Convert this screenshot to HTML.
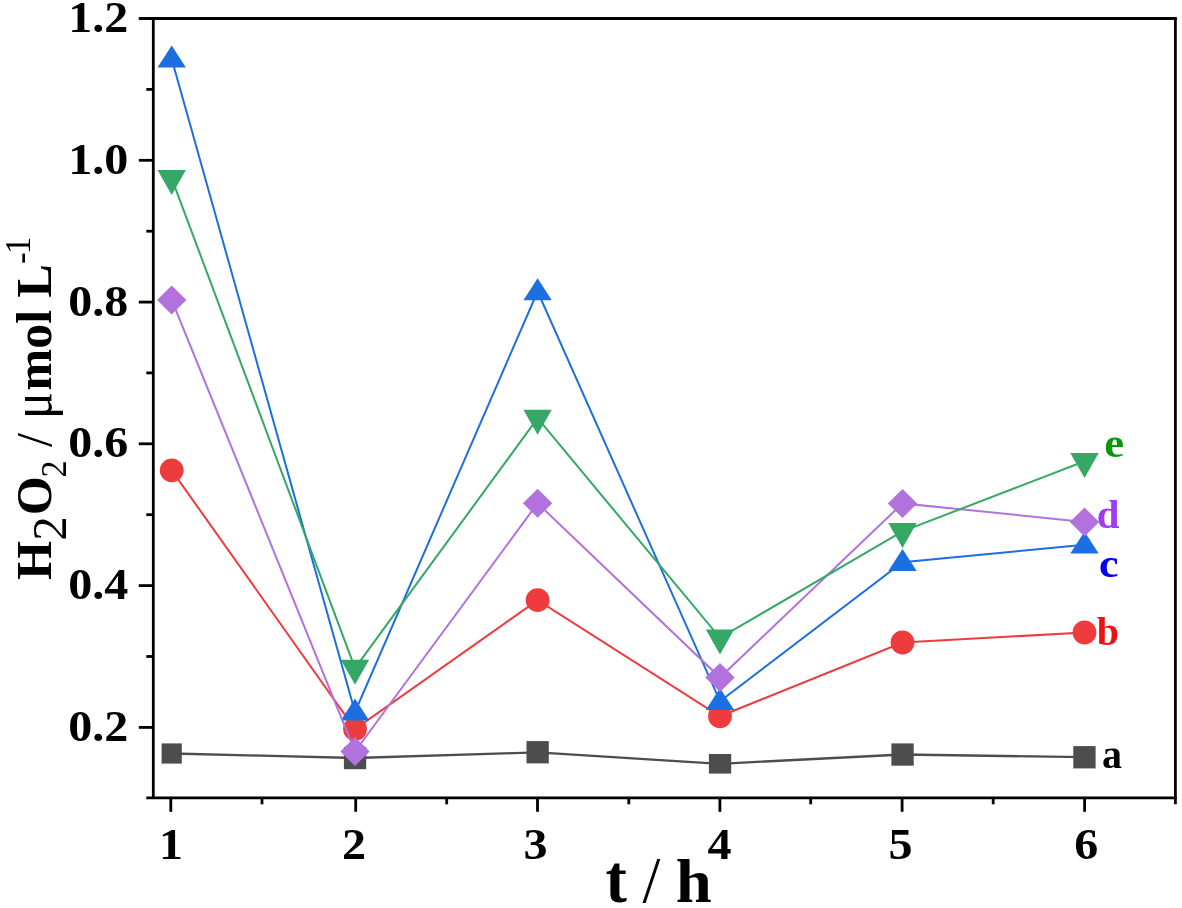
<!DOCTYPE html>
<html><head><meta charset="utf-8"><title>H2O2 chart</title>
<style>
html,body{margin:0;padding:0;background:#fff;}
body{width:1182px;height:908px;overflow:hidden;}
svg{display:block;filter:blur(0.5px);font-family:"Liberation Serif","DejaVu Serif",serif;font-weight:bold;fill:#000;}
</style></head><body>
<svg width="1182" height="908" viewBox="0 0 1182 908">
<rect width="1182" height="908" fill="#fff"/>
<g><polyline points="171.7,753.5 355.0,758.0 537.6,752.3 720.0,763.8 902.5,754.5 1084.5,757.2" fill="none" stroke="#4d4d4d" stroke-width="2.3"/>
<rect x="161.6" y="743.4" width="20.2" height="20.2" fill="#4d4d4d"/>
<rect x="343.9" y="746.9" width="22.3" height="22.3" fill="#4d4d4d"/>
<rect x="526.5" y="741.1" width="22.3" height="22.3" fill="#4d4d4d"/>
<rect x="708.9" y="754.0" width="22.3" height="19.6" fill="#4d4d4d"/>
<rect x="891.4" y="743.4" width="22.3" height="22.3" fill="#4d4d4d"/>
<rect x="1073.3" y="746.1" width="22.3" height="22.3" fill="#4d4d4d"/>
</g>
<g><polyline points="171.7,470.3 355.0,729.0 537.6,600.2 720.0,716.3 902.5,642.5 1084.5,632.5" fill="none" stroke="#ee3b3d" stroke-width="2.0"/>
<circle cx="171.7" cy="470.3" r="11.9" fill="#ee3b3d"/>
<circle cx="355.0" cy="729.0" r="11.9" fill="#ee3b3d"/>
<circle cx="537.6" cy="600.2" r="11.9" fill="#ee3b3d"/>
<circle cx="720.0" cy="716.3" r="11.9" fill="#ee3b3d"/>
<circle cx="902.5" cy="642.5" r="11.9" fill="#ee3b3d"/>
<circle cx="1084.5" cy="632.5" r="11.9" fill="#ee3b3d"/>
</g>
<g><polyline points="171.7,58.9 355.0,711.9 537.6,291.6 720.0,701.3 902.5,562.2 1084.5,544.8" fill="none" stroke="#1c6fe0" stroke-width="2.0"/>
<polygon points="171.7,45.6 185.9,67.6 157.5,67.6" fill="#1c6fe0"/>
<polygon points="355.0,698.6 369.2,720.6 340.8,720.6" fill="#1c6fe0"/>
<polygon points="537.6,278.3 551.8,300.3 523.4,300.3" fill="#1c6fe0"/>
<polygon points="720.0,688.0 734.2,710.0 705.8,710.0" fill="#1c6fe0"/>
<polygon points="902.5,548.9 916.7,570.9 888.3,570.9" fill="#1c6fe0"/>
<polygon points="1084.5,531.5 1098.7,553.5 1070.3,553.5" fill="#1c6fe0"/>
</g>
<g><polyline points="171.7,299.9 355.0,751.5 537.6,503.3 720.0,677.5 902.5,503.4 1084.5,521.9" fill="none" stroke="#b172dd" stroke-width="2.0"/>
<polygon points="171.7,285.4 186.4,299.9 171.7,314.4 157.0,299.9" fill="#b172dd"/>
<polygon points="355.0,737.0 369.7,751.5 355.0,766.0 340.3,751.5" fill="#b172dd"/>
<polygon points="537.6,488.8 552.3,503.3 537.6,517.8 522.9,503.3" fill="#b172dd"/>
<polygon points="720.0,663.0 734.7,677.5 720.0,692.0 705.3,677.5" fill="#b172dd"/>
<polygon points="902.5,488.9 917.2,503.4 902.5,517.9 887.8,503.4" fill="#b172dd"/>
<polygon points="1084.5,507.4 1099.2,521.9 1084.5,536.4 1069.8,521.9" fill="#b172dd"/>
</g>
<g><polyline points="171.7,178.3 355.0,668.2 537.6,418.2 720.0,637.8 902.5,531.4 1084.5,461.3" fill="none" stroke="#36a866" stroke-width="2.0"/>
<polygon points="157.5,169.9 185.9,169.9 171.7,194.9" fill="#36a866"/>
<polygon points="340.8,659.8 369.2,659.8 355.0,684.8" fill="#36a866"/>
<polygon points="523.4,409.8 551.8,409.8 537.6,434.8" fill="#36a866"/>
<polygon points="705.8,629.4 734.2,629.4 720.0,654.4" fill="#36a866"/>
<polygon points="888.3,523.0 916.7,523.0 902.5,548.0" fill="#36a866"/>
<polygon points="1070.3,452.9 1098.7,452.9 1084.5,477.9" fill="#36a866"/>
</g>
<g stroke="#000" stroke-width="2.8" fill="none" stroke-linecap="butt">
<line x1="138.8" y1="18.5" x2="1176.80" y2="18.5"/>
<line x1="146.3" y1="797.8" x2="1176.80" y2="797.8"/>
<line x1="153.3" y1="18.5" x2="153.3" y2="797.8"/>
<line x1="1175.4" y1="18.5" x2="1175.4" y2="804.3"/>
<line x1="138.8" y1="727.4" x2="153.3" y2="727.4"/>
<line x1="146.3" y1="656.5" x2="153.3" y2="656.5"/>
<line x1="138.8" y1="585.6" x2="153.3" y2="585.6"/>
<line x1="146.3" y1="514.7" x2="153.3" y2="514.7"/>
<line x1="138.8" y1="443.8" x2="153.3" y2="443.8"/>
<line x1="146.3" y1="372.9" x2="153.3" y2="372.9"/>
<line x1="138.8" y1="302.1" x2="153.3" y2="302.1"/>
<line x1="146.3" y1="231.2" x2="153.3" y2="231.2"/>
<line x1="138.8" y1="160.3" x2="153.3" y2="160.3"/>
<line x1="146.3" y1="89.4" x2="153.3" y2="89.4"/>
<line x1="170.8" y1="797.8" x2="170.8" y2="811.8"/>
<line x1="355.7" y1="797.8" x2="355.7" y2="811.8"/>
<line x1="537.5" y1="797.8" x2="537.5" y2="811.8"/>
<line x1="719.9" y1="797.8" x2="719.9" y2="811.8"/>
<line x1="902.1" y1="797.8" x2="902.1" y2="811.8"/>
<line x1="1084.6" y1="797.8" x2="1084.6" y2="811.8"/>
<line x1="262.0" y1="797.8" x2="262.0" y2="804.3"/>
<line x1="446.7" y1="797.8" x2="446.7" y2="804.3"/>
<line x1="628.8" y1="797.8" x2="628.8" y2="804.3"/>
<line x1="810.7" y1="797.8" x2="810.7" y2="804.3"/>
<line x1="993.2" y1="797.8" x2="993.2" y2="804.3"/>
</g>
<text transform="translate(128.3,741.0) scale(1.08,1)" text-anchor="end" style="font-size:44.5px;">0.2</text>
<text transform="translate(128.3,599.2) scale(1.08,1)" text-anchor="end" style="font-size:44.5px;">0.4</text>
<text transform="translate(128.3,457.4) scale(1.08,1)" text-anchor="end" style="font-size:44.5px;">0.6</text>
<text transform="translate(128.3,315.7) scale(1.08,1)" text-anchor="end" style="font-size:44.5px;">0.8</text>
<text transform="translate(128.3,173.9) scale(1.08,1)" text-anchor="end" style="font-size:44.5px;">1.0</text>
<text transform="translate(128.3,32.1) scale(1.08,1)" text-anchor="end" style="font-size:44.5px;">1.2</text>
<text transform="translate(170.9,859.3) scale(1.08,1)" text-anchor="middle" style="font-size:44.5px;">1</text>
<text transform="translate(353.9,859.3) scale(1.08,1)" text-anchor="middle" style="font-size:44.5px;">2</text>
<text transform="translate(535.6,859.3) scale(1.08,1)" text-anchor="middle" style="font-size:44.5px;">3</text>
<text transform="translate(719.5,859.3) scale(1.08,1)" text-anchor="middle" style="font-size:44.5px;">4</text>
<text transform="translate(900.6,859.3) scale(1.08,1)" text-anchor="middle" style="font-size:44.5px;">5</text>
<text transform="translate(1086.3,859.3) scale(1.08,1)" text-anchor="middle" style="font-size:44.5px;">6</text>
<text transform="translate(605.6,902) scale(1.06,1.13)" style="font-size:60.5px">t</text>
<text transform="translate(642.6,902) scale(1.06,1.09)" style="font-size:60.5px;font-weight:normal">/</text>
<text transform="translate(675.8,901.8) scale(1.07,1.0)" style="font-size:60.5px">h</text>
<g transform="translate(51,580.8) rotate(-90)" style="font-size:50px">
<text x="1" y="0">H</text>
<text x="40" y="15" style="font-weight:normal;font-size:49px">2</text>
<text x="65.5" y="0">O</text>
<text transform="translate(103.2,15) scale(0.95,1)" style="font-weight:normal;font-size:36px">2</text>
<text x="133.8" y="0" style="font-weight:normal">/</text>
<text transform="translate(161.7,0) scale(0.88,1)" style="font-weight:normal;font-size:57px">μ</text>
<text x="190.3" y="0">mol L</text>
<text x="316.8" y="-19" style="font-size:35px;font-weight:normal">-</text>
<text x="326.5" y="-21" style="font-size:35px;font-weight:normal">1</text>
</g>
<text transform="translate(1102.0,768.3) scale(1.0,1)" text-anchor="start" style="font-size:40px;">a</text>
<text transform="translate(1096.8,645.0) scale(1.0,1)" text-anchor="start" style="font-size:40px;fill:#ee1111">b</text>
<text transform="translate(1099.0,576.5) scale(1.1,1)" text-anchor="start" style="font-size:40px;fill:#0000f5">c</text>
<text transform="translate(1096.8,528.0) scale(1.02,1)" text-anchor="start" style="font-size:40px;fill:#9f3df2">d</text>
<text transform="translate(1104.3,457.3) scale(1.12,1)" text-anchor="start" style="font-size:40px;fill:#0a960a">e</text>
</svg></body></html>
